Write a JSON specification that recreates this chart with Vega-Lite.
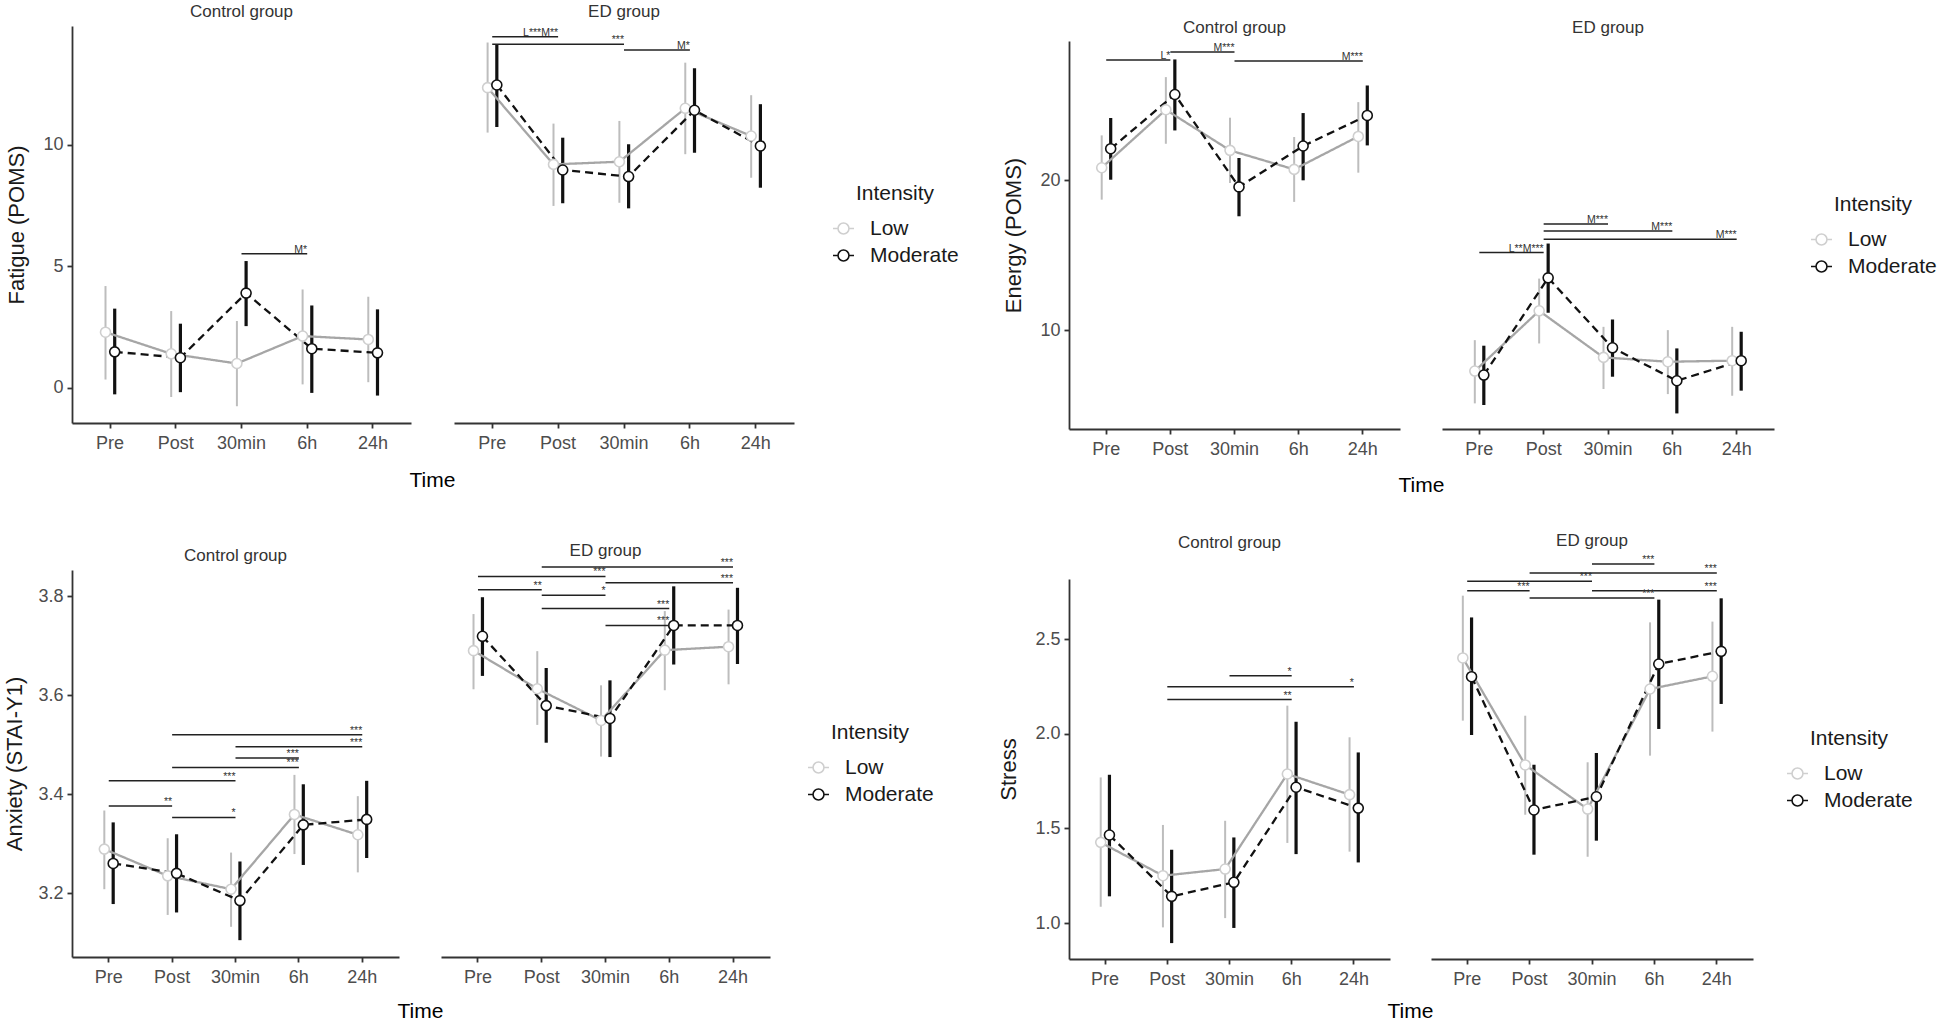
{
  "$schema": "https://vega.github.io/schema/vega-lite/v6.json",
  "background": "white",
  "padding": {"left": 3, "top": 2, "right": 0, "bottom": 0},
  "config": {
    "font": "Liberation Sans",
    "view": {"stroke": null},
    "scale": {"offsetBandPaddingInner": 0, "offsetBandPaddingOuter": 0},
    "axis": {"grid": false, "domainColor": "#333333", "domainWidth": 1.8, "tickColor": "#333333", "tickWidth": 1.8, "tickSize": 5, "labelFontSize": 18, "labelColor": "#4d4d4d", "labelPadding": 4, "titleFontSize": 22, "titleFontWeight": "normal", "titleColor": "#1a1a1a"},
    "axisX": {"labelAngle": 0, "labelPadding": 6, "titleFontSize": 21},
    "axisY": {"titlePadding": 14},
    "title": {"fontSize": 17, "fontWeight": "normal", "color": "#333333", "anchor": "middle", "baseline": "bottom"},
    "text": {"fontSize": 10.5, "color": "#333333", "align": "right", "baseline": "bottom", "dy": 1},
    "legend": {"titleFontSize": 21, "labelFontSize": 21, "titleFontWeight": "normal", "titleColor": "#1a1a1a", "labelColor": "#1a1a1a", "titleAnchor": "middle", "symbolSize": 441, "symbolStrokeWidth": 1.6, "symbolFillColor": "white", "symbolType": "M-1,0L-0.52,0M0.52,0L1,0M-0.52,0A0.52,0.52,0,1,0,0.52,0A0.52,0.52,0,1,0,-0.52,0Z", "rowPadding": 5, "labelOffset": 15, "titlePadding": 13, "padding": 0}
  },
  "datasets": {
    "fatigue": [
      {"g": "Control", "t": "Pre", "i": "Low", "m": 2.29, "lo": 0.34, "hi": 4.19},
      {"g": "Control", "t": "Pre", "i": "Moderate", "m": 1.48, "lo": -0.27, "hi": 3.26},
      {"g": "Control", "t": "Post", "i": "Low", "m": 1.40, "lo": -0.38, "hi": 3.16},
      {"g": "Control", "t": "Post", "i": "Moderate", "m": 1.24, "lo": -0.18, "hi": 2.64},
      {"g": "Control", "t": "30min", "i": "Low", "m": 1.00, "lo": -0.76, "hi": 2.75},
      {"g": "Control", "t": "30min", "i": "Moderate", "m": 3.90, "lo": 2.54, "hi": 5.22},
      {"g": "Control", "t": "6h", "i": "Low", "m": 2.13, "lo": 0.14, "hi": 4.05},
      {"g": "Control", "t": "6h", "i": "Moderate", "m": 1.61, "lo": -0.21, "hi": 3.39},
      {"g": "Control", "t": "24h", "i": "Low", "m": 1.99, "lo": 0.23, "hi": 3.75},
      {"g": "Control", "t": "24h", "i": "Moderate", "m": 1.44, "lo": -0.32, "hi": 3.23},
      {"g": "ED", "t": "Pre", "i": "Low", "m": 12.36, "lo": 10.51, "hi": 14.22},
      {"g": "ED", "t": "Pre", "i": "Moderate", "m": 12.47, "lo": 10.74, "hi": 14.15},
      {"g": "ED", "t": "Post", "i": "Low", "m": 9.20, "lo": 7.49, "hi": 10.88},
      {"g": "ED", "t": "Post", "i": "Moderate", "m": 8.97, "lo": 7.60, "hi": 10.30},
      {"g": "ED", "t": "30min", "i": "Low", "m": 9.31, "lo": 7.62, "hi": 10.99},
      {"g": "ED", "t": "30min", "i": "Moderate", "m": 8.70, "lo": 7.39, "hi": 10.03},
      {"g": "ED", "t": "6h", "i": "Low", "m": 11.51, "lo": 9.62, "hi": 13.39},
      {"g": "ED", "t": "6h", "i": "Moderate", "m": 11.43, "lo": 9.68, "hi": 13.16},
      {"g": "ED", "t": "24h", "i": "Low", "m": 10.37, "lo": 8.65, "hi": 12.05},
      {"g": "ED", "t": "24h", "i": "Moderate", "m": 9.96, "lo": 8.24, "hi": 11.68}
    ],
    "fatigue_sig": [
      {"g": "Control", "from": "30min", "to": "6h", "y": 5.52, "lab": "M*"},
      {"g": "ED", "from": "Pre", "to": "Post", "y": 14.46, "lab": "L***M**"},
      {"g": "ED", "from": "Pre", "to": "30min", "y": 14.15, "lab": "***"},
      {"g": "ED", "from": "30min", "to": "6h", "y": 13.91, "lab": "M*"}
    ],
    "energy": [
      {"g": "Control", "t": "Pre", "i": "Low", "m": 20.84, "lo": 18.71, "hi": 23.0},
      {"g": "Control", "t": "Pre", "i": "Moderate", "m": 22.11, "lo": 20.04, "hi": 24.16},
      {"g": "Control", "t": "Post", "i": "Low", "m": 24.71, "lo": 22.44, "hi": 26.89},
      {"g": "Control", "t": "Post", "i": "Moderate", "m": 25.73, "lo": 23.33, "hi": 28.07},
      {"g": "Control", "t": "30min", "i": "Low", "m": 22.0, "lo": 19.82, "hi": 24.18},
      {"g": "Control", "t": "30min", "i": "Moderate", "m": 19.56, "lo": 17.6, "hi": 21.49},
      {"g": "Control", "t": "6h", "i": "Low", "m": 20.73, "lo": 18.56, "hi": 22.89},
      {"g": "Control", "t": "6h", "i": "Moderate", "m": 22.29, "lo": 20.0, "hi": 24.49},
      {"g": "Control", "t": "24h", "i": "Low", "m": 22.93, "lo": 20.51, "hi": 25.22},
      {"g": "Control", "t": "24h", "i": "Moderate", "m": 24.33, "lo": 22.33, "hi": 26.33},
      {"g": "ED", "t": "Pre", "i": "Low", "m": 7.27, "lo": 5.11, "hi": 9.33},
      {"g": "ED", "t": "Pre", "i": "Moderate", "m": 7.0, "lo": 5.0, "hi": 8.96},
      {"g": "ED", "t": "Post", "i": "Low", "m": 11.29, "lo": 9.11, "hi": 13.44},
      {"g": "ED", "t": "Post", "i": "Moderate", "m": 13.49, "lo": 11.16, "hi": 15.78},
      {"g": "ED", "t": "30min", "i": "Low", "m": 8.18, "lo": 6.07, "hi": 10.22},
      {"g": "ED", "t": "30min", "i": "Moderate", "m": 8.82, "lo": 6.89, "hi": 10.71},
      {"g": "ED", "t": "6h", "i": "Low", "m": 7.89, "lo": 5.73, "hi": 10.0},
      {"g": "ED", "t": "6h", "i": "Moderate", "m": 6.62, "lo": 4.44, "hi": 8.78},
      {"g": "ED", "t": "24h", "i": "Low", "m": 7.96, "lo": 5.62, "hi": 10.22},
      {"g": "ED", "t": "24h", "i": "Moderate", "m": 7.96, "lo": 5.96, "hi": 9.89}
    ],
    "energy_sig": [
      {"g": "Control", "from": "Pre", "to": "Post", "y": 28.04, "lab": "L*"},
      {"g": "Control", "from": "Post", "to": "30min", "y": 28.56, "lab": "M***"},
      {"g": "Control", "from": "30min", "to": "24h", "y": 27.96, "lab": "M***"},
      {"g": "ED", "from": "Pre", "to": "Post", "y": 15.18, "lab": "L**M***"},
      {"g": "ED", "from": "Post", "to": "30min", "y": 17.09, "lab": "M***"},
      {"g": "ED", "from": "Post", "to": "6h", "y": 16.62, "lab": "M***"},
      {"g": "ED", "from": "Post", "to": "24h", "y": 16.07, "lab": "M***"}
    ],
    "anxiety": [
      {"g": "Control", "t": "Pre", "i": "Low", "m": 3.289, "lo": 3.208, "hi": 3.367},
      {"g": "Control", "t": "Pre", "i": "Moderate", "m": 3.260, "lo": 3.178, "hi": 3.343},
      {"g": "Control", "t": "Post", "i": "Low", "m": 3.235, "lo": 3.156, "hi": 3.311},
      {"g": "Control", "t": "Post", "i": "Moderate", "m": 3.240, "lo": 3.161, "hi": 3.319},
      {"g": "Control", "t": "30min", "i": "Low", "m": 3.208, "lo": 3.132, "hi": 3.282},
      {"g": "Control", "t": "30min", "i": "Moderate", "m": 3.185, "lo": 3.105, "hi": 3.264},
      {"g": "Control", "t": "6h", "i": "Low", "m": 3.359, "lo": 3.279, "hi": 3.439},
      {"g": "Control", "t": "6h", "i": "Moderate", "m": 3.338, "lo": 3.257, "hi": 3.420},
      {"g": "Control", "t": "24h", "i": "Low", "m": 3.318, "lo": 3.242, "hi": 3.396},
      {"g": "Control", "t": "24h", "i": "Moderate", "m": 3.349, "lo": 3.271, "hi": 3.427},
      {"g": "ED", "t": "Pre", "i": "Low", "m": 3.690, "lo": 3.612, "hi": 3.764},
      {"g": "ED", "t": "Pre", "i": "Moderate", "m": 3.719, "lo": 3.639, "hi": 3.798},
      {"g": "ED", "t": "Post", "i": "Low", "m": 3.613, "lo": 3.540, "hi": 3.689},
      {"g": "ED", "t": "Post", "i": "Moderate", "m": 3.579, "lo": 3.504, "hi": 3.655},
      {"g": "ED", "t": "30min", "i": "Low", "m": 3.549, "lo": 3.476, "hi": 3.620},
      {"g": "ED", "t": "30min", "i": "Moderate", "m": 3.553, "lo": 3.475, "hi": 3.630},
      {"g": "ED", "t": "6h", "i": "Low", "m": 3.691, "lo": 3.610, "hi": 3.770},
      {"g": "ED", "t": "6h", "i": "Moderate", "m": 3.741, "lo": 3.662, "hi": 3.820},
      {"g": "ED", "t": "24h", "i": "Low", "m": 3.698, "lo": 3.622, "hi": 3.773},
      {"g": "ED", "t": "24h", "i": "Moderate", "m": 3.741, "lo": 3.663, "hi": 3.817}
    ],
    "anxiety_sig": [
      {"g": "Control", "from": "Post", "to": "24h", "y": 3.520, "lab": "***"},
      {"g": "Control", "from": "30min", "to": "24h", "y": 3.496, "lab": "***"},
      {"g": "Control", "from": "30min", "to": "6h", "y": 3.473, "lab": "***"},
      {"g": "Control", "from": "Post", "to": "6h", "y": 3.454, "lab": "***"},
      {"g": "Control", "from": "Pre", "to": "30min", "y": 3.427, "lab": "***"},
      {"g": "Control", "from": "Pre", "to": "Post", "y": 3.376, "lab": "**"},
      {"g": "Control", "from": "Post", "to": "30min", "y": 3.353, "lab": "*"},
      {"g": "ED", "from": "Post", "to": "24h", "y": 3.859, "lab": "***"},
      {"g": "ED", "from": "Pre", "to": "30min", "y": 3.840, "lab": "***"},
      {"g": "ED", "from": "30min", "to": "24h", "y": 3.827, "lab": "***"},
      {"g": "ED", "from": "Pre", "to": "Post", "y": 3.813, "lab": "**"},
      {"g": "ED", "from": "Post", "to": "30min", "y": 3.802, "lab": "*"},
      {"g": "ED", "from": "Post", "to": "6h", "y": 3.775, "lab": "***"},
      {"g": "ED", "from": "30min", "to": "6h", "y": 3.741, "lab": "***"}
    ],
    "stress": [
      {"g": "Control", "t": "Pre", "i": "Low", "m": 1.426, "lo": 1.086, "hi": 1.769},
      {"g": "Control", "t": "Pre", "i": "Moderate", "m": 1.465, "lo": 1.141, "hi": 1.783},
      {"g": "Control", "t": "Post", "i": "Low", "m": 1.250, "lo": 0.977, "hi": 1.518},
      {"g": "Control", "t": "Post", "i": "Moderate", "m": 1.141, "lo": 0.894, "hi": 1.387},
      {"g": "Control", "t": "30min", "i": "Low", "m": 1.285, "lo": 1.026, "hi": 1.540},
      {"g": "Control", "t": "30min", "i": "Moderate", "m": 1.215, "lo": 0.974, "hi": 1.452},
      {"g": "Control", "t": "6h", "i": "Low", "m": 1.787, "lo": 1.423, "hi": 2.148},
      {"g": "Control", "t": "6h", "i": "Moderate", "m": 1.717, "lo": 1.364, "hi": 2.063},
      {"g": "Control", "t": "24h", "i": "Low", "m": 1.678, "lo": 1.377, "hi": 1.981},
      {"g": "Control", "t": "24h", "i": "Moderate", "m": 1.607, "lo": 1.320, "hi": 1.901},
      {"g": "ED", "t": "Pre", "i": "Low", "m": 2.400, "lo": 2.069, "hi": 2.729},
      {"g": "ED", "t": "Pre", "i": "Moderate", "m": 2.301, "lo": 1.993, "hi": 2.614},
      {"g": "ED", "t": "Post", "i": "Low", "m": 1.835, "lo": 1.572, "hi": 2.095},
      {"g": "ED", "t": "Post", "i": "Moderate", "m": 1.597, "lo": 1.361, "hi": 1.836},
      {"g": "ED", "t": "30min", "i": "Low", "m": 1.602, "lo": 1.350, "hi": 1.849},
      {"g": "ED", "t": "30min", "i": "Moderate", "m": 1.667, "lo": 1.435, "hi": 1.898},
      {"g": "ED", "t": "6h", "i": "Low", "m": 2.236, "lo": 1.884, "hi": 2.588},
      {"g": "ED", "t": "6h", "i": "Moderate", "m": 2.368, "lo": 2.025, "hi": 2.708},
      {"g": "ED", "t": "24h", "i": "Low", "m": 2.303, "lo": 2.011, "hi": 2.592},
      {"g": "ED", "t": "24h", "i": "Moderate", "m": 2.435, "lo": 2.157, "hi": 2.715}
    ],
    "stress_sig": [
      {"g": "Control", "from": "30min", "to": "6h", "y": 2.306, "lab": "*"},
      {"g": "Control", "from": "Post", "to": "24h", "y": 2.248, "lab": "*"},
      {"g": "Control", "from": "Post", "to": "6h", "y": 2.180, "lab": "**"},
      {"g": "ED", "from": "30min", "to": "6h", "y": 2.896, "lab": "***"},
      {"g": "ED", "from": "Post", "to": "24h", "y": 2.849, "lab": "***"},
      {"g": "ED", "from": "Pre", "to": "30min", "y": 2.805, "lab": "***"},
      {"g": "ED", "from": "Pre", "to": "Post", "y": 2.755, "lab": "***"},
      {"g": "ED", "from": "30min", "to": "24h", "y": 2.755, "lab": "***"},
      {"g": "ED", "from": "Post", "to": "6h", "y": 2.717, "lab": "***"}
    ]
  },
  "resolve": {"scale": {"color": "independent", "stroke": "independent", "strokeDash": "independent", "strokeWidth": "independent", "xOffset": "independent"}},
  "spacing": 38,
  "hconcat": [
    {
      "spacing": 0,
      "resolve": {"scale": {"color": "independent", "stroke": "independent", "strokeDash": "independent", "strokeWidth": "independent", "xOffset": "independent"}},
      "vconcat": [
        {"width": 1, "height": 1, "data": {"values": []}, "mark": "rule", "encoding": {}},
        {
          "spacing": 52,
          "resolve": {"scale": {"color": "independent", "stroke": "independent", "strokeDash": "independent", "strokeWidth": "independent", "xOffset": "independent"}},
          "vconcat": [
            {
              "bounds": "flush",
              "spacing": 43,
              "resolve": {"scale": {"color": "independent", "stroke": "independent", "strokeDash": "independent", "strokeWidth": "independent", "xOffset": "independent"}},
              "hconcat": [
                {
                  "width": 339, "height": 397,
                  "title": {"text": "Control group", "offset": 5},
                  "resolve": {"scale": {"color": "independent", "stroke": "independent", "strokeDash": "independent", "strokeWidth": "independent"}},
                  "layer": [
                    {
                      "data": {"name": "fatigue"}, "transform": [{"filter": "datum.g == 'Control'"}],
                      "mark": "rule",
                      "encoding": {
                        "x": {"field": "t", "type": "nominal", "sort": ["Pre", "Post", "30min", "6h", "24h"], "scale": {"type": "band", "domain": ["Pre", "Post", "30min", "6h", "24h"], "paddingInner": 0.72, "paddingOuter": 0.44}, "axis": {"bandPosition": 0.5, "titleX": 360, "titleY": 57, "titleBaseline": "middle", "titleAlign": "center", "titleColor": "#000000"}, "title": "Time"},
                        "xOffset": {"field": "i", "type": "nominal", "scale": {"domain": ["Low", "Moderate"]}},
                        "y": {"field": "lo", "type": "quantitative", "scale": {"domain": [-1.45, 14.9], "nice": false, "zero": false}, "axis": {"values": [0, 5, 10]}, "title": "Fatigue (POMS)"},
                        "y2": {"field": "hi"},
                        "color": {"field": "i", "type": "nominal", "scale": {"domain": ["Low", "Moderate"], "range": ["#bdbdbd", "#111111"]}, "legend": null},
                        "strokeWidth": {"field": "i", "type": "ordinal", "scale": {"domain": ["Low", "Moderate"], "range": [2, 3.2]}, "legend": null}
                      }
                    },
                    {
                      "data": {"name": "fatigue"}, "transform": [{"filter": "datum.g == 'Control'"}],
                      "mark": {"type": "line", "strokeWidth": 2.3},
                      "encoding": {
                        "x": {"field": "t", "type": "nominal", "sort": ["Pre", "Post", "30min", "6h", "24h"], "title": "Time"},
                        "xOffset": {"field": "i", "type": "nominal"},
                        "y": {"field": "m", "type": "quantitative", "title": "Fatigue (POMS)"},
                        "color": {"field": "i", "type": "nominal", "scale": {"domain": ["Low", "Moderate"], "range": ["#a6a6a6", "#111111"]}, "legend": null},
                        "strokeDash": {"field": "i", "type": "nominal", "scale": {"domain": ["Low", "Moderate"], "range": [[1, 0], [8, 5]]}, "legend": null}
                      }
                    },
                    {
                      "data": {"name": "fatigue"}, "transform": [{"filter": "datum.g == 'Control'"}],
                      "mark": {"type": "point", "filled": true, "fill": "white", "size": 100, "strokeWidth": 1.6, "opacity": 1},
                      "encoding": {
                        "x": {"field": "t", "type": "nominal", "sort": ["Pre", "Post", "30min", "6h", "24h"], "title": "Time"},
                        "xOffset": {"field": "i", "type": "nominal"},
                        "y": {"field": "m", "type": "quantitative", "title": "Fatigue (POMS)"},
                        "stroke": {"field": "i", "type": "nominal", "scale": {"domain": ["Low", "Moderate"], "range": ["#cfcfcf", "#111111"]}, "legend": null}
                      }
                    },
                    {
                      "data": {"name": "fatigue_sig"}, "transform": [{"filter": "datum.g == 'Control'"}],
                      "mark": {"type": "rule", "color": "#222222", "strokeWidth": 1.5},
                      "encoding": {
                        "x": {"field": "from", "type": "nominal", "title": "Time"},
                        "x2": {"field": "to"},
                        "y": {"field": "y", "type": "quantitative", "title": "Fatigue (POMS)"}
                      }
                    },
                    {
                      "data": {"name": "fatigue_sig"}, "transform": [{"filter": "datum.g == 'Control'"}],
                      "mark": "text",
                      "encoding": {
                        "x": {"field": "to", "type": "nominal", "title": "Time"},
                        "y": {"field": "y", "type": "quantitative", "title": "Fatigue (POMS)"},
                        "text": {"field": "lab"}
                      }
                    }
                  ]
                },
                {
                  "width": 340, "height": 397,
                  "title": {"text": "ED group", "offset": 5},
                  "resolve": {"scale": {"color": "independent", "stroke": "independent", "strokeDash": "independent", "strokeWidth": "independent"}},
                  "layer": [
                    {
                      "data": {"name": "fatigue"}, "transform": [{"filter": "datum.g == 'ED'"}],
                      "mark": "rule",
                      "encoding": {
                        "x": {"field": "t", "type": "nominal", "sort": ["Pre", "Post", "30min", "6h", "24h"], "scale": {"type": "band", "domain": ["Pre", "Post", "30min", "6h", "24h"], "paddingInner": 0.72, "paddingOuter": 0.44}, "axis": {"bandPosition": 0.5}, "title": null},
                        "xOffset": {"field": "i", "type": "nominal", "scale": {"domain": ["Low", "Moderate"]}},
                        "y": {"field": "lo", "type": "quantitative", "scale": {"domain": [-1.45, 14.9], "nice": false, "zero": false}, "axis": null},
                        "y2": {"field": "hi"},
                        "color": {"field": "i", "type": "nominal", "scale": {"domain": ["Low", "Moderate"], "range": ["#bdbdbd", "#111111"]}, "legend": null},
                        "strokeWidth": {"field": "i", "type": "ordinal", "scale": {"domain": ["Low", "Moderate"], "range": [2, 3.2]}, "legend": null}
                      }
                    },
                    {
                      "data": {"name": "fatigue"}, "transform": [{"filter": "datum.g == 'ED'"}],
                      "mark": {"type": "line", "strokeWidth": 2.3},
                      "encoding": {
                        "x": {"field": "t", "type": "nominal", "sort": ["Pre", "Post", "30min", "6h", "24h"], "title": null},
                        "xOffset": {"field": "i", "type": "nominal"},
                        "y": {"field": "m", "type": "quantitative", "axis": null},
                        "color": {"field": "i", "type": "nominal", "scale": {"domain": ["Low", "Moderate"], "range": ["#a6a6a6", "#111111"]}, "legend": null},
                        "strokeDash": {"field": "i", "type": "nominal", "scale": {"domain": ["Low", "Moderate"], "range": [[1, 0], [8, 5]]}, "legend": null}
                      }
                    },
                    {
                      "data": {"name": "fatigue"}, "transform": [{"filter": "datum.g == 'ED'"}],
                      "mark": {"type": "point", "filled": true, "fill": "white", "size": 100, "strokeWidth": 1.6, "opacity": 1},
                      "encoding": {
                        "x": {"field": "t", "type": "nominal", "sort": ["Pre", "Post", "30min", "6h", "24h"], "title": null},
                        "xOffset": {"field": "i", "type": "nominal"},
                        "y": {"field": "m", "type": "quantitative", "axis": null},
                        "stroke": {"field": "i", "type": "nominal", "scale": {"domain": ["Low", "Moderate"], "range": ["#cfcfcf", "#111111"]}, "legend": {"title": "Intensity", "orient": "none", "legendX": 378, "legendY": 157}}
                      }
                    },
                    {
                      "data": {"name": "fatigue_sig"}, "transform": [{"filter": "datum.g == 'ED'"}],
                      "mark": {"type": "rule", "color": "#222222", "strokeWidth": 1.5},
                      "encoding": {
                        "x": {"field": "from", "type": "nominal", "title": null},
                        "x2": {"field": "to"},
                        "y": {"field": "y", "type": "quantitative", "axis": null}
                      }
                    },
                    {
                      "data": {"name": "fatigue_sig"}, "transform": [{"filter": "datum.g == 'ED'"}],
                      "mark": "text",
                      "encoding": {
                        "x": {"field": "to", "type": "nominal", "title": null},
                        "y": {"field": "y", "type": "quantitative", "axis": null},
                        "text": {"field": "lab"}
                      }
                    }
                  ]
                }
              ]
            },
            {
              "bounds": "flush",
              "spacing": 42,
              "resolve": {"scale": {"color": "independent", "stroke": "independent", "strokeDash": "independent", "strokeWidth": "independent", "xOffset": "independent"}},
              "hconcat": [
                {
                  "width": 327, "height": 387,
                  "title": {"text": "Control group", "offset": 5},
                  "resolve": {"scale": {"color": "independent", "stroke": "independent", "strokeDash": "independent", "strokeWidth": "independent"}},
                  "layer": [
                    {
                      "data": {"name": "anxiety"}, "transform": [{"filter": "datum.g == 'Control'"}],
                      "mark": "rule",
                      "encoding": {
                        "x": {"field": "t", "type": "nominal", "sort": ["Pre", "Post", "30min", "6h", "24h"], "scale": {"type": "band", "domain": ["Pre", "Post", "30min", "6h", "24h"], "paddingInner": 0.72, "paddingOuter": 0.44}, "axis": {"bandPosition": 0.5, "titleX": 348, "titleY": 54, "titleBaseline": "middle", "titleAlign": "center", "titleColor": "#000000"}, "title": "Time"},
                        "xOffset": {"field": "i", "type": "nominal", "scale": {"domain": ["Low", "Moderate"]}},
                        "y": {"field": "lo", "type": "quantitative", "scale": {"domain": [3.071, 3.853], "nice": false, "zero": false}, "axis": {"values": [3.2, 3.4, 3.6, 3.8], "format": ".1f", "titlePadding": 11}, "title": "Anxiety (STAI-Y1)"},
                        "y2": {"field": "hi"},
                        "color": {"field": "i", "type": "nominal", "scale": {"domain": ["Low", "Moderate"], "range": ["#bdbdbd", "#111111"]}, "legend": null},
                        "strokeWidth": {"field": "i", "type": "ordinal", "scale": {"domain": ["Low", "Moderate"], "range": [2, 3.2]}, "legend": null}
                      }
                    },
                    {
                      "data": {"name": "anxiety"}, "transform": [{"filter": "datum.g == 'Control'"}],
                      "mark": {"type": "line", "strokeWidth": 2.3},
                      "encoding": {
                        "x": {"field": "t", "type": "nominal", "sort": ["Pre", "Post", "30min", "6h", "24h"], "title": "Time"},
                        "xOffset": {"field": "i", "type": "nominal"},
                        "y": {"field": "m", "type": "quantitative", "title": "Anxiety (STAI-Y1)"},
                        "color": {"field": "i", "type": "nominal", "scale": {"domain": ["Low", "Moderate"], "range": ["#a6a6a6", "#111111"]}, "legend": null},
                        "strokeDash": {"field": "i", "type": "nominal", "scale": {"domain": ["Low", "Moderate"], "range": [[1, 0], [8, 5]]}, "legend": null}
                      }
                    },
                    {
                      "data": {"name": "anxiety"}, "transform": [{"filter": "datum.g == 'Control'"}],
                      "mark": {"type": "point", "filled": true, "fill": "white", "size": 100, "strokeWidth": 1.6, "opacity": 1},
                      "encoding": {
                        "x": {"field": "t", "type": "nominal", "sort": ["Pre", "Post", "30min", "6h", "24h"], "title": "Time"},
                        "xOffset": {"field": "i", "type": "nominal"},
                        "y": {"field": "m", "type": "quantitative", "title": "Anxiety (STAI-Y1)"},
                        "stroke": {"field": "i", "type": "nominal", "scale": {"domain": ["Low", "Moderate"], "range": ["#cfcfcf", "#111111"]}, "legend": null}
                      }
                    },
                    {
                      "data": {"name": "anxiety_sig"}, "transform": [{"filter": "datum.g == 'Control'"}],
                      "mark": {"type": "rule", "color": "#222222", "strokeWidth": 1.5},
                      "encoding": {
                        "x": {"field": "from", "type": "nominal", "title": "Time"},
                        "x2": {"field": "to"},
                        "y": {"field": "y", "type": "quantitative", "title": "Anxiety (STAI-Y1)"}
                      }
                    },
                    {
                      "data": {"name": "anxiety_sig"}, "transform": [{"filter": "datum.g == 'Control'"}],
                      "mark": "text",
                      "encoding": {
                        "x": {"field": "to", "type": "nominal", "title": "Time"},
                        "y": {"field": "y", "type": "quantitative", "title": "Anxiety (STAI-Y1)"},
                        "text": {"field": "lab"}
                      }
                    }
                  ]
                },
                {
                  "width": 329, "height": 387,
                  "title": {"text": "ED group", "offset": -2},
                  "resolve": {"scale": {"color": "independent", "stroke": "independent", "strokeDash": "independent", "strokeWidth": "independent"}},
                  "layer": [
                    {
                      "data": {"name": "anxiety"}, "transform": [{"filter": "datum.g == 'ED'"}],
                      "mark": "rule",
                      "encoding": {
                        "x": {"field": "t", "type": "nominal", "sort": ["Pre", "Post", "30min", "6h", "24h"], "scale": {"type": "band", "domain": ["Pre", "Post", "30min", "6h", "24h"], "paddingInner": 0.72, "paddingOuter": 0.44}, "axis": {"bandPosition": 0.5}, "title": null},
                        "xOffset": {"field": "i", "type": "nominal", "scale": {"domain": ["Low", "Moderate"]}},
                        "y": {"field": "lo", "type": "quantitative", "scale": {"domain": [3.071, 3.853], "nice": false, "zero": false}, "axis": null},
                        "y2": {"field": "hi"},
                        "color": {"field": "i", "type": "nominal", "scale": {"domain": ["Low", "Moderate"], "range": ["#bdbdbd", "#111111"]}, "legend": null},
                        "strokeWidth": {"field": "i", "type": "ordinal", "scale": {"domain": ["Low", "Moderate"], "range": [2, 3.2]}, "legend": null}
                      }
                    },
                    {
                      "data": {"name": "anxiety"}, "transform": [{"filter": "datum.g == 'ED'"}],
                      "mark": {"type": "line", "strokeWidth": 2.3},
                      "encoding": {
                        "x": {"field": "t", "type": "nominal", "sort": ["Pre", "Post", "30min", "6h", "24h"], "title": null},
                        "xOffset": {"field": "i", "type": "nominal"},
                        "y": {"field": "m", "type": "quantitative", "axis": null},
                        "color": {"field": "i", "type": "nominal", "scale": {"domain": ["Low", "Moderate"], "range": ["#a6a6a6", "#111111"]}, "legend": null},
                        "strokeDash": {"field": "i", "type": "nominal", "scale": {"domain": ["Low", "Moderate"], "range": [[1, 0], [8, 5]]}, "legend": null}
                      }
                    },
                    {
                      "data": {"name": "anxiety"}, "transform": [{"filter": "datum.g == 'ED'"}],
                      "mark": {"type": "point", "filled": true, "fill": "white", "size": 100, "strokeWidth": 1.6, "opacity": 1},
                      "encoding": {
                        "x": {"field": "t", "type": "nominal", "sort": ["Pre", "Post", "30min", "6h", "24h"], "title": null},
                        "xOffset": {"field": "i", "type": "nominal"},
                        "y": {"field": "m", "type": "quantitative", "axis": null},
                        "stroke": {"field": "i", "type": "nominal", "scale": {"domain": ["Low", "Moderate"], "range": ["#cfcfcf", "#111111"]}, "legend": {"title": "Intensity", "orient": "none", "legendX": 366, "legendY": 152}}
                      }
                    },
                    {
                      "data": {"name": "anxiety_sig"}, "transform": [{"filter": "datum.g == 'ED'"}],
                      "mark": {"type": "rule", "color": "#222222", "strokeWidth": 1.5},
                      "encoding": {
                        "x": {"field": "from", "type": "nominal", "title": null},
                        "x2": {"field": "to"},
                        "y": {"field": "y", "type": "quantitative", "axis": null}
                      }
                    },
                    {
                      "data": {"name": "anxiety_sig"}, "transform": [{"filter": "datum.g == 'ED'"}],
                      "mark": "text",
                      "encoding": {
                        "x": {"field": "to", "type": "nominal", "title": null},
                        "y": {"field": "y", "type": "quantitative", "axis": null},
                        "text": {"field": "lab"}
                      }
                    }
                  ]
                }
              ]
            }
          ]
        }
      ]
    },
    {
      "spacing": 0,
      "resolve": {"scale": {"color": "independent", "stroke": "independent", "strokeDash": "independent", "strokeWidth": "independent", "xOffset": "independent"}},
      "vconcat": [
        {"width": 1, "height": 17, "data": {"values": []}, "mark": "rule", "encoding": {}},
        {
          "spacing": 37,
          "resolve": {"scale": {"color": "independent", "stroke": "independent", "strokeDash": "independent", "strokeWidth": "independent", "xOffset": "independent"}},
          "vconcat": [
            {
              "bounds": "flush",
              "spacing": 42,
              "resolve": {"scale": {"color": "independent", "stroke": "independent", "strokeDash": "independent", "strokeWidth": "independent", "xOffset": "independent"}},
              "hconcat": [
                {
                  "width": 331, "height": 388,
                  "title": {"text": "Control group", "offset": 4},
                  "resolve": {"scale": {"color": "independent", "stroke": "independent", "strokeDash": "independent", "strokeWidth": "independent"}},
                  "layer": [
                    {
                      "data": {"name": "energy"}, "transform": [{"filter": "datum.g == 'Control'"}],
                      "mark": "rule",
                      "encoding": {
                        "x": {"field": "t", "type": "nominal", "sort": ["Pre", "Post", "30min", "6h", "24h"], "scale": {"type": "band", "domain": ["Pre", "Post", "30min", "6h", "24h"], "paddingInner": 0.72, "paddingOuter": 0.44}, "axis": {"bandPosition": 0.5, "titleX": 352, "titleY": 56, "titleBaseline": "middle", "titleAlign": "center", "titleColor": "#000000"}, "title": "Time"},
                        "xOffset": {"field": "i", "type": "nominal", "scale": {"domain": ["Low", "Moderate"]}},
                        "y": {"field": "lo", "type": "quantitative", "scale": {"domain": [3.4, 29.3], "nice": false, "zero": false}, "axis": {"values": [10, 20]}, "title": "Energy (POMS)"},
                        "y2": {"field": "hi"},
                        "color": {"field": "i", "type": "nominal", "scale": {"domain": ["Low", "Moderate"], "range": ["#bdbdbd", "#111111"]}, "legend": null},
                        "strokeWidth": {"field": "i", "type": "ordinal", "scale": {"domain": ["Low", "Moderate"], "range": [2, 3.2]}, "legend": null}
                      }
                    },
                    {
                      "data": {"name": "energy"}, "transform": [{"filter": "datum.g == 'Control'"}],
                      "mark": {"type": "line", "strokeWidth": 2.3},
                      "encoding": {
                        "x": {"field": "t", "type": "nominal", "sort": ["Pre", "Post", "30min", "6h", "24h"], "title": "Time"},
                        "xOffset": {"field": "i", "type": "nominal"},
                        "y": {"field": "m", "type": "quantitative", "title": "Energy (POMS)"},
                        "color": {"field": "i", "type": "nominal", "scale": {"domain": ["Low", "Moderate"], "range": ["#a6a6a6", "#111111"]}, "legend": null},
                        "strokeDash": {"field": "i", "type": "nominal", "scale": {"domain": ["Low", "Moderate"], "range": [[1, 0], [8, 5]]}, "legend": null}
                      }
                    },
                    {
                      "data": {"name": "energy"}, "transform": [{"filter": "datum.g == 'Control'"}],
                      "mark": {"type": "point", "filled": true, "fill": "white", "size": 100, "strokeWidth": 1.6, "opacity": 1},
                      "encoding": {
                        "x": {"field": "t", "type": "nominal", "sort": ["Pre", "Post", "30min", "6h", "24h"], "title": "Time"},
                        "xOffset": {"field": "i", "type": "nominal"},
                        "y": {"field": "m", "type": "quantitative", "title": "Energy (POMS)"},
                        "stroke": {"field": "i", "type": "nominal", "scale": {"domain": ["Low", "Moderate"], "range": ["#cfcfcf", "#111111"]}, "legend": null}
                      }
                    },
                    {
                      "data": {"name": "energy_sig"}, "transform": [{"filter": "datum.g == 'Control'"}],
                      "mark": {"type": "rule", "color": "#222222", "strokeWidth": 1.5},
                      "encoding": {
                        "x": {"field": "from", "type": "nominal", "title": "Time"},
                        "x2": {"field": "to"},
                        "y": {"field": "y", "type": "quantitative", "title": "Energy (POMS)"}
                      }
                    },
                    {
                      "data": {"name": "energy_sig"}, "transform": [{"filter": "datum.g == 'Control'"}],
                      "mark": "text",
                      "encoding": {
                        "x": {"field": "to", "type": "nominal", "title": "Time"},
                        "y": {"field": "y", "type": "quantitative", "title": "Energy (POMS)"},
                        "text": {"field": "lab"}
                      }
                    }
                  ]
                },
                {
                  "width": 332, "height": 388,
                  "title": {"text": "ED group", "offset": 4},
                  "resolve": {"scale": {"color": "independent", "stroke": "independent", "strokeDash": "independent", "strokeWidth": "independent"}},
                  "layer": [
                    {
                      "data": {"name": "energy"}, "transform": [{"filter": "datum.g == 'ED'"}],
                      "mark": "rule",
                      "encoding": {
                        "x": {"field": "t", "type": "nominal", "sort": ["Pre", "Post", "30min", "6h", "24h"], "scale": {"type": "band", "domain": ["Pre", "Post", "30min", "6h", "24h"], "paddingInner": 0.72, "paddingOuter": 0.44}, "axis": {"bandPosition": 0.5}, "title": null},
                        "xOffset": {"field": "i", "type": "nominal", "scale": {"domain": ["Low", "Moderate"]}},
                        "y": {"field": "lo", "type": "quantitative", "scale": {"domain": [3.4, 29.3], "nice": false, "zero": false}, "axis": null},
                        "y2": {"field": "hi"},
                        "color": {"field": "i", "type": "nominal", "scale": {"domain": ["Low", "Moderate"], "range": ["#bdbdbd", "#111111"]}, "legend": null},
                        "strokeWidth": {"field": "i", "type": "ordinal", "scale": {"domain": ["Low", "Moderate"], "range": [2, 3.2]}, "legend": null}
                      }
                    },
                    {
                      "data": {"name": "energy"}, "transform": [{"filter": "datum.g == 'ED'"}],
                      "mark": {"type": "line", "strokeWidth": 2.3},
                      "encoding": {
                        "x": {"field": "t", "type": "nominal", "sort": ["Pre", "Post", "30min", "6h", "24h"], "title": null},
                        "xOffset": {"field": "i", "type": "nominal"},
                        "y": {"field": "m", "type": "quantitative", "axis": null},
                        "color": {"field": "i", "type": "nominal", "scale": {"domain": ["Low", "Moderate"], "range": ["#a6a6a6", "#111111"]}, "legend": null},
                        "strokeDash": {"field": "i", "type": "nominal", "scale": {"domain": ["Low", "Moderate"], "range": [[1, 0], [8, 5]]}, "legend": null}
                      }
                    },
                    {
                      "data": {"name": "energy"}, "transform": [{"filter": "datum.g == 'ED'"}],
                      "mark": {"type": "point", "filled": true, "fill": "white", "size": 100, "strokeWidth": 1.6, "opacity": 1},
                      "encoding": {
                        "x": {"field": "t", "type": "nominal", "sort": ["Pre", "Post", "30min", "6h", "24h"], "title": null},
                        "xOffset": {"field": "i", "type": "nominal"},
                        "y": {"field": "m", "type": "quantitative", "axis": null},
                        "stroke": {"field": "i", "type": "nominal", "scale": {"domain": ["Low", "Moderate"], "range": ["#cfcfcf", "#111111"]}, "legend": {"title": "Intensity", "orient": "none", "legendX": 368, "legendY": 153}}
                      }
                    },
                    {
                      "data": {"name": "energy_sig"}, "transform": [{"filter": "datum.g == 'ED'"}],
                      "mark": {"type": "rule", "color": "#222222", "strokeWidth": 1.5},
                      "encoding": {
                        "x": {"field": "from", "type": "nominal", "title": null},
                        "x2": {"field": "to"},
                        "y": {"field": "y", "type": "quantitative", "axis": null}
                      }
                    },
                    {
                      "data": {"name": "energy_sig"}, "transform": [{"filter": "datum.g == 'ED'"}],
                      "mark": "text",
                      "encoding": {
                        "x": {"field": "to", "type": "nominal", "title": null},
                        "y": {"field": "y", "type": "quantitative", "axis": null},
                        "text": {"field": "lab"}
                      }
                    }
                  ]
                }
              ]
            },
            {
              "bounds": "flush",
              "spacing": 41,
              "resolve": {"scale": {"color": "independent", "stroke": "independent", "strokeDash": "independent", "strokeWidth": "independent", "xOffset": "independent"}},
              "hconcat": [
                {
                  "width": 321, "height": 380,
                  "title": {"text": "Control group", "offset": 27},
                  "resolve": {"scale": {"color": "independent", "stroke": "independent", "strokeDash": "independent", "strokeWidth": "independent"}},
                  "layer": [
                    {
                      "data": {"name": "stress"}, "transform": [{"filter": "datum.g == 'Control'"}],
                      "mark": "rule",
                      "encoding": {
                        "x": {"field": "t", "type": "nominal", "sort": ["Pre", "Post", "30min", "6h", "24h"], "scale": {"type": "band", "domain": ["Pre", "Post", "30min", "6h", "24h"], "paddingInner": 0.72, "paddingOuter": 0.44}, "axis": {"bandPosition": 0.5, "titleX": 341, "titleY": 52, "titleBaseline": "middle", "titleAlign": "center", "titleColor": "#000000"}, "title": "Time"},
                        "xOffset": {"field": "i", "type": "nominal", "scale": {"domain": ["Low", "Moderate"]}},
                        "y": {"field": "lo", "type": "quantitative", "scale": {"domain": [0.81, 2.817], "nice": false, "zero": false}, "axis": {"values": [1.0, 1.5, 2.0, 2.5], "format": ".1f"}, "title": "Stress"},
                        "y2": {"field": "hi"},
                        "color": {"field": "i", "type": "nominal", "scale": {"domain": ["Low", "Moderate"], "range": ["#bdbdbd", "#111111"]}, "legend": null},
                        "strokeWidth": {"field": "i", "type": "ordinal", "scale": {"domain": ["Low", "Moderate"], "range": [2, 3.2]}, "legend": null}
                      }
                    },
                    {
                      "data": {"name": "stress"}, "transform": [{"filter": "datum.g == 'Control'"}],
                      "mark": {"type": "line", "strokeWidth": 2.3},
                      "encoding": {
                        "x": {"field": "t", "type": "nominal", "sort": ["Pre", "Post", "30min", "6h", "24h"], "title": "Time"},
                        "xOffset": {"field": "i", "type": "nominal"},
                        "y": {"field": "m", "type": "quantitative", "title": "Stress"},
                        "color": {"field": "i", "type": "nominal", "scale": {"domain": ["Low", "Moderate"], "range": ["#a6a6a6", "#111111"]}, "legend": null},
                        "strokeDash": {"field": "i", "type": "nominal", "scale": {"domain": ["Low", "Moderate"], "range": [[1, 0], [8, 5]]}, "legend": null}
                      }
                    },
                    {
                      "data": {"name": "stress"}, "transform": [{"filter": "datum.g == 'Control'"}],
                      "mark": {"type": "point", "filled": true, "fill": "white", "size": 100, "strokeWidth": 1.6, "opacity": 1},
                      "encoding": {
                        "x": {"field": "t", "type": "nominal", "sort": ["Pre", "Post", "30min", "6h", "24h"], "title": "Time"},
                        "xOffset": {"field": "i", "type": "nominal"},
                        "y": {"field": "m", "type": "quantitative", "title": "Stress"},
                        "stroke": {"field": "i", "type": "nominal", "scale": {"domain": ["Low", "Moderate"], "range": ["#cfcfcf", "#111111"]}, "legend": null}
                      }
                    },
                    {
                      "data": {"name": "stress_sig"}, "transform": [{"filter": "datum.g == 'Control'"}],
                      "mark": {"type": "rule", "color": "#222222", "strokeWidth": 1.5},
                      "encoding": {
                        "x": {"field": "from", "type": "nominal", "title": "Time"},
                        "x2": {"field": "to"},
                        "y": {"field": "y", "type": "quantitative", "title": "Stress"}
                      }
                    },
                    {
                      "data": {"name": "stress_sig"}, "transform": [{"filter": "datum.g == 'Control'"}],
                      "mark": "text",
                      "encoding": {
                        "x": {"field": "to", "type": "nominal", "title": "Time"},
                        "y": {"field": "y", "type": "quantitative", "title": "Stress"},
                        "text": {"field": "lab"}
                      }
                    }
                  ]
                },
                {
                  "width": 322, "height": 380,
                  "title": {"text": "ED group", "offset": 5},
                  "resolve": {"scale": {"color": "independent", "stroke": "independent", "strokeDash": "independent", "strokeWidth": "independent"}},
                  "layer": [
                    {
                      "data": {"name": "stress"}, "transform": [{"filter": "datum.g == 'ED'"}],
                      "mark": "rule",
                      "encoding": {
                        "x": {"field": "t", "type": "nominal", "sort": ["Pre", "Post", "30min", "6h", "24h"], "scale": {"type": "band", "domain": ["Pre", "Post", "30min", "6h", "24h"], "paddingInner": 0.72, "paddingOuter": 0.44}, "axis": {"bandPosition": 0.5}, "title": null},
                        "xOffset": {"field": "i", "type": "nominal", "scale": {"domain": ["Low", "Moderate"]}},
                        "y": {"field": "lo", "type": "quantitative", "scale": {"domain": [0.81, 2.817], "nice": false, "zero": false}, "axis": null},
                        "y2": {"field": "hi"},
                        "color": {"field": "i", "type": "nominal", "scale": {"domain": ["Low", "Moderate"], "range": ["#bdbdbd", "#111111"]}, "legend": null},
                        "strokeWidth": {"field": "i", "type": "ordinal", "scale": {"domain": ["Low", "Moderate"], "range": [2, 3.2]}, "legend": null}
                      }
                    },
                    {
                      "data": {"name": "stress"}, "transform": [{"filter": "datum.g == 'ED'"}],
                      "mark": {"type": "line", "strokeWidth": 2.3},
                      "encoding": {
                        "x": {"field": "t", "type": "nominal", "sort": ["Pre", "Post", "30min", "6h", "24h"], "title": null},
                        "xOffset": {"field": "i", "type": "nominal"},
                        "y": {"field": "m", "type": "quantitative", "axis": null},
                        "color": {"field": "i", "type": "nominal", "scale": {"domain": ["Low", "Moderate"], "range": ["#a6a6a6", "#111111"]}, "legend": null},
                        "strokeDash": {"field": "i", "type": "nominal", "scale": {"domain": ["Low", "Moderate"], "range": [[1, 0], [8, 5]]}, "legend": null}
                      }
                    },
                    {
                      "data": {"name": "stress"}, "transform": [{"filter": "datum.g == 'ED'"}],
                      "mark": {"type": "point", "filled": true, "fill": "white", "size": 100, "strokeWidth": 1.6, "opacity": 1},
                      "encoding": {
                        "x": {"field": "t", "type": "nominal", "sort": ["Pre", "Post", "30min", "6h", "24h"], "title": null},
                        "xOffset": {"field": "i", "type": "nominal"},
                        "y": {"field": "m", "type": "quantitative", "axis": null},
                        "stroke": {"field": "i", "type": "nominal", "scale": {"domain": ["Low", "Moderate"], "range": ["#cfcfcf", "#111111"]}, "legend": {"title": "Intensity", "orient": "none", "legendX": 355, "legendY": 149}}
                      }
                    },
                    {
                      "data": {"name": "stress_sig"}, "transform": [{"filter": "datum.g == 'ED'"}],
                      "mark": {"type": "rule", "color": "#222222", "strokeWidth": 1.5},
                      "encoding": {
                        "x": {"field": "from", "type": "nominal", "title": null},
                        "x2": {"field": "to"},
                        "y": {"field": "y", "type": "quantitative", "axis": null}
                      }
                    },
                    {
                      "data": {"name": "stress_sig"}, "transform": [{"filter": "datum.g == 'ED'"}],
                      "mark": "text",
                      "encoding": {
                        "x": {"field": "to", "type": "nominal", "title": null},
                        "y": {"field": "y", "type": "quantitative", "axis": null},
                        "text": {"field": "lab"}
                      }
                    }
                  ]
                }
              ]
            }
          ]
        }
      ]
    }
  ]
}
